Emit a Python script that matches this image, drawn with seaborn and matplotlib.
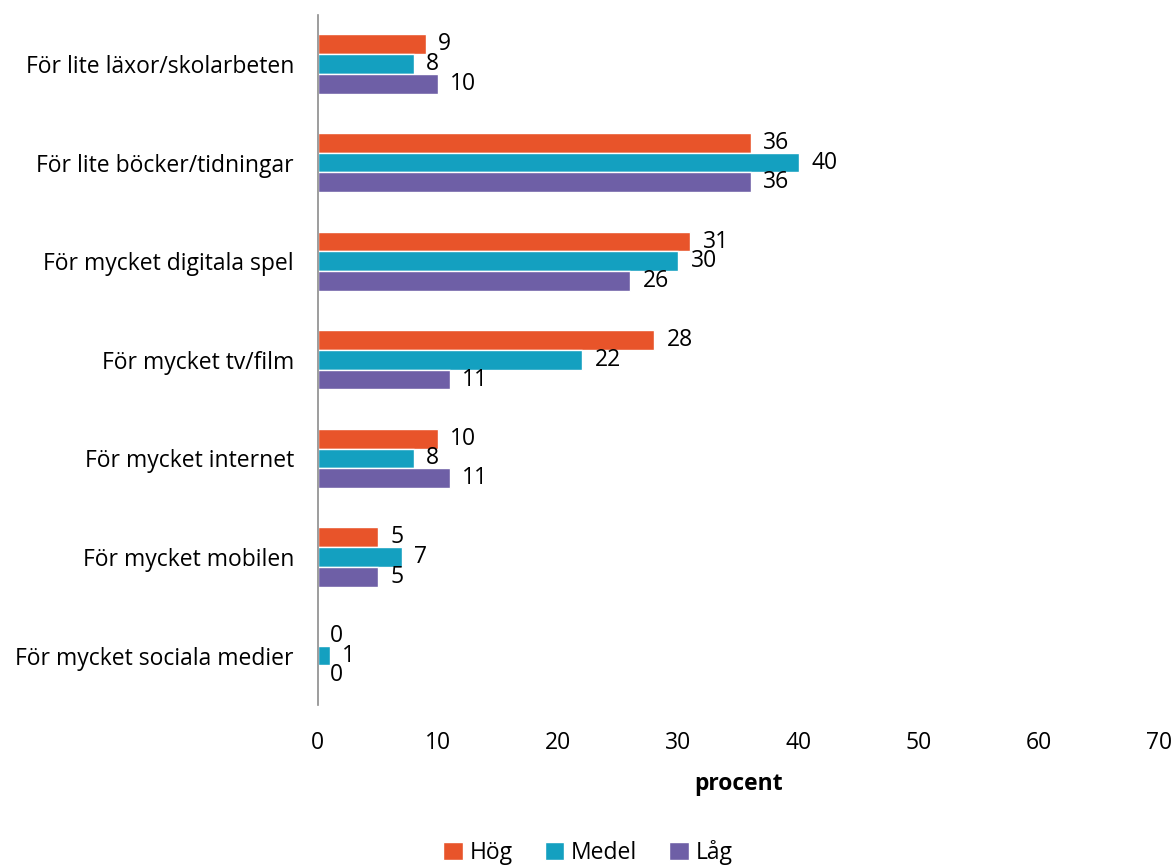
import pandas as pd
import matplotlib.pyplot as plt
import seaborn as sns

# Data
categories = ['För lite läxor/skolarbeten', 'För lite böcker/tidningar', 'För mycket digitala spel',
              'För mycket tv/film', 'För mycket internet', 'För mycket mobilen',
              'För mycket sociala medier']
hog = [9, 36, 31, 28, 10, 5, 0]
medel = [8, 40, 30, 22, 8, 7, 1]
lag = [10, 36, 26, 11, 11, 5, 0]
groups = ['Hög', 'Medel', 'Låg']
colors = ['#E8542A', '#14A0C0', '#6E5FA6']

df = pd.DataFrame({
    'kategori': categories * 3,
    'grupp': [g for g in groups for _ in categories],
    'procent': hog + medel + lag,
})

sns.set_style('white')
plt.rcParams['font.family'] = ['Open Sans', 'DejaVu Sans']
plt.rcParams['text.color'] = 'black'
plt.rcParams['xtick.color'] = 'black'
plt.rcParams['ytick.color'] = 'black'
plt.rcParams['axes.labelcolor'] = 'black'
fs = 16.5

fig = plt.figure(figsize=(11.76, 8.66), dpi=100)
ax = fig.add_axes([0.270, 0.186, 0.716, 0.797])

sns.barplot(data=df, y='kategori', x='procent', hue='grupp', hue_order=groups,
            order=categories, palette=colors, width=0.6, saturation=1,
            orient='h', ax=ax, legend=True)

for cont in ax.containers:
    ax.bar_label(cont, fmt='%d', padding=9, fontsize=fs, color='black')

ax.set_xlim(0, 70)
ax.set_xticks(range(0, 71, 10))
ax.set_xlabel('procent', fontsize=fs, fontweight='bold', labelpad=12)
ax.set_ylabel('')
ax.tick_params(axis='x', labelsize=fs, length=0, pad=19)
ax.tick_params(axis='y', labelsize=fs, length=0, pad=17)

for s in ['top', 'right', 'bottom']:
    ax.spines[s].set_visible(False)
ax.spines['left'].set_color('#8C8C8C')
ax.spines['left'].set_linewidth(1.2)

ax.legend(loc='lower center', bbox_to_anchor=(0.5, -0.012), bbox_transform=fig.transFigure,
          ncol=3, frameon=False, fontsize=fs, handlelength=0.85, handleheight=0.85,
          handletextpad=0.3, columnspacing=1.4, borderaxespad=0.1)

plt.savefig('out.png', dpi=100)
